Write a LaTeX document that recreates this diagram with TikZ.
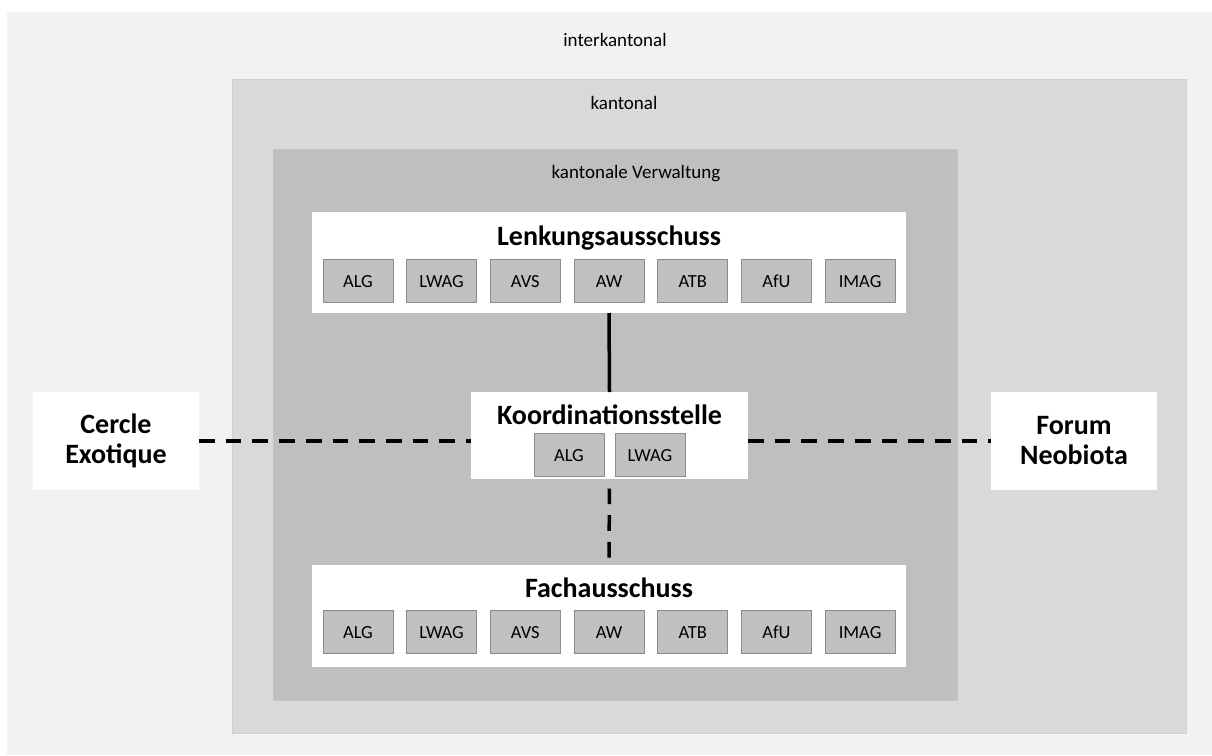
\documentclass[tikz,border=0pt]{standalone}
\usepackage{fontspec}
\setmainfont{Carlito}
\usetikzlibrary{positioning}

\definecolor{interbg}{HTML}{F2F2F2}
\definecolor{kantbg}{HTML}{D9D9D9}
\definecolor{verwbg}{HTML}{BFBFBF}
\definecolor{unitbg}{HTML}{C0C0C0}
\definecolor{unitline}{HTML}{8C8C8C}

\tikzset{
    region/.style={rectangle, inner sep=0pt, outer sep=0pt, anchor=north west},
    panel/.style={rectangle, fill=white, inner sep=0pt, outer sep=0pt},
    unit/.style={rectangle, draw=unitline, fill=unitbg, line width=0.8pt, minimum width=70pt, minimum height=43pt, inner sep=0pt, text height=13pt, text depth=0pt, font=\fontsize{18.5}{20}\selectfont},
    title/.style={font=\fontsize{28}{30}\selectfont\bfseries},
    lbl/.style={font=\fontsize{19}{21}\selectfont},
    link/.style={line width=3.5pt},
    dlink/.style={line width=3.5pt, dash pattern=on 15.7pt off 11pt}
}

\begin{document}
\begin{tikzpicture}[x=1pt, y=-1pt]
    \useasboundingbox (0,0) rectangle (1212,755);
    % Regions
    \node (inter) [region, fill=interbg, minimum width=1205pt, minimum height=743pt] at (7,12) {};
    \node (kant) [region, fill=kantbg, draw=kantbg!96!black, line width=0.5pt, minimum width=954pt, minimum height=654pt] at (232,79) {};
    \node (verw) [region, fill=verwbg, draw=verwbg!92!white, line width=0.5pt, minimum width=684pt, minimum height=551pt] at (273,149) {};

    \node (inter-label) [lbl] at (615,40) {interkantonal};
    \node (kant-label) [lbl] at (624,103) {kantonal};
    \node (verw-label) [lbl] at (636,174) {kantonale Verwaltung};

    % Panels
    \node (lenk) [panel, minimum width=594pt, minimum height=101pt] at (609,262.5) {};
    \node (fach) [panel, minimum width=594pt, minimum height=102pt] at (609,616) {};
    \node (koord) [panel, minimum width=277pt, minimum height=87pt] at (609.5,435.5) {};
    \node (cercle) [panel, title, align=center, minimum width=166pt, minimum height=98pt] at (116,441) {Cercle\\Exotique};
    \node (forum) [panel, title, align=center, minimum width=166pt, minimum height=98pt] at (1074,441) {Forum\\Neobiota};

    \node (lenk-title) [title, anchor=base] at (609,245) {Lenkungsausschuss};
    \node (fach-title) [title, anchor=base] at (609,597) {Fachausschuss};
    \node (koord-title) [title, anchor=base] at (609.5,424) {Koordinationsstelle};

    % Members
    \foreach \u [count=\i] in {ALG,LWAG,AVS,AW,ATB,AfU,IMAG} {
        \node (lenk-\i) [unit] at ({609+(\i-4)*83.7},280.5) {\u};
        \node (fach-\i) [unit] at ({609+(\i-4)*83.7},632) {\u};
    }
    \node (koord-1) [unit] at (569,455) {ALG};
    \node (koord-2) [unit] at (650,455) {LWAG};

    % Connections
    \draw [link] (lenk.south) -- (koord.north);
    \draw [dlink, dash phase=17.2pt] (koord.south) -- (fach.north);
    \draw [dlink] (cercle.east) -- (cercle.east -| koord.west);
    \draw [dlink] (koord.east |- forum.west) -- (forum.west);
\end{tikzpicture}
\end{document}
